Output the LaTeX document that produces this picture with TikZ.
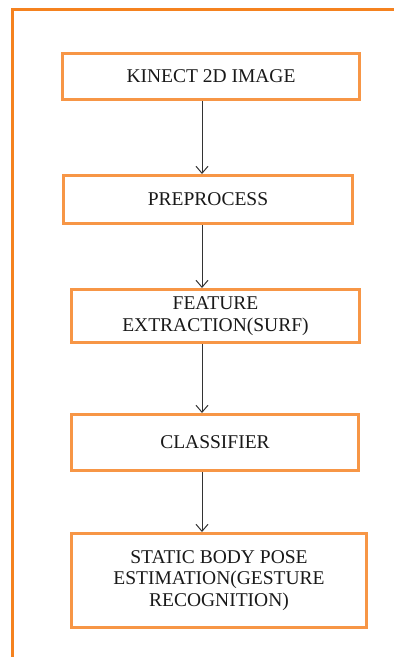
\documentclass[tikz,border=0pt]{standalone}
\usepackage{fontspec}
\setmainfont{Liberation Serif}
\usepackage{tikz}
\usetikzlibrary{arrows.meta}
\tikzset{>={Straight Barb[width=12pt,length=7pt]}}
\definecolor{boxorange}{HTML}{F79646}
\definecolor{frameorange}{HTML}{F5821F}
\definecolor{darkgray}{HTML}{333333}

\begin{document}
\begin{tikzpicture}[x=1pt, y=1pt,
  stepbox/.style={draw=boxorange, line width=3pt, fill=white, align=center,
    inner sep=0pt, text=black!90, font=\fontsize{19.5}{21.5}\selectfont},
  flow/.style={->, draw=darkgray, line width=1pt}]
\useasboundingbox (0,0) rectangle (394,-657);

\draw[frameorange, line width=3pt] (12.5,-657) -- (12.5,-9.5) -- (394,-9.5);

\node[stepbox, minimum width=297pt, minimum height=46pt] (kinect) at (211,-76.5)
  {KINECT 2D IMAGE};
\node[stepbox, minimum width=289pt, minimum height=48pt] (prep) at (208,-199.5)
  {PREPROCESS};
\node[stepbox, minimum width=288pt, minimum height=53pt] (feat) at (215.5,-316)
  {FEATURE\\EXTRACTION(SURF)};
\node[stepbox, minimum width=287pt, minimum height=56pt] (clf) at (215,-442.5)
  {CLASSIFIER};
\node[stepbox, minimum width=295pt, minimum height=94pt] (pose) at (219,-580.5)
  {STATIC BODY POSE\\ESTIMATION(GESTURE\\RECOGNITION)};

\coordinate (col) at (202,0);
\draw[flow] (kinect.south -| col) -- (prep.north -| col);
\draw[flow] (prep.south -| col) -- (feat.north -| col);
\draw[flow] (feat.south -| col) -- (clf.north -| col);
\draw[flow] (clf.south -| col) -- (pose.north -| col);
\end{tikzpicture}
\end{document}
